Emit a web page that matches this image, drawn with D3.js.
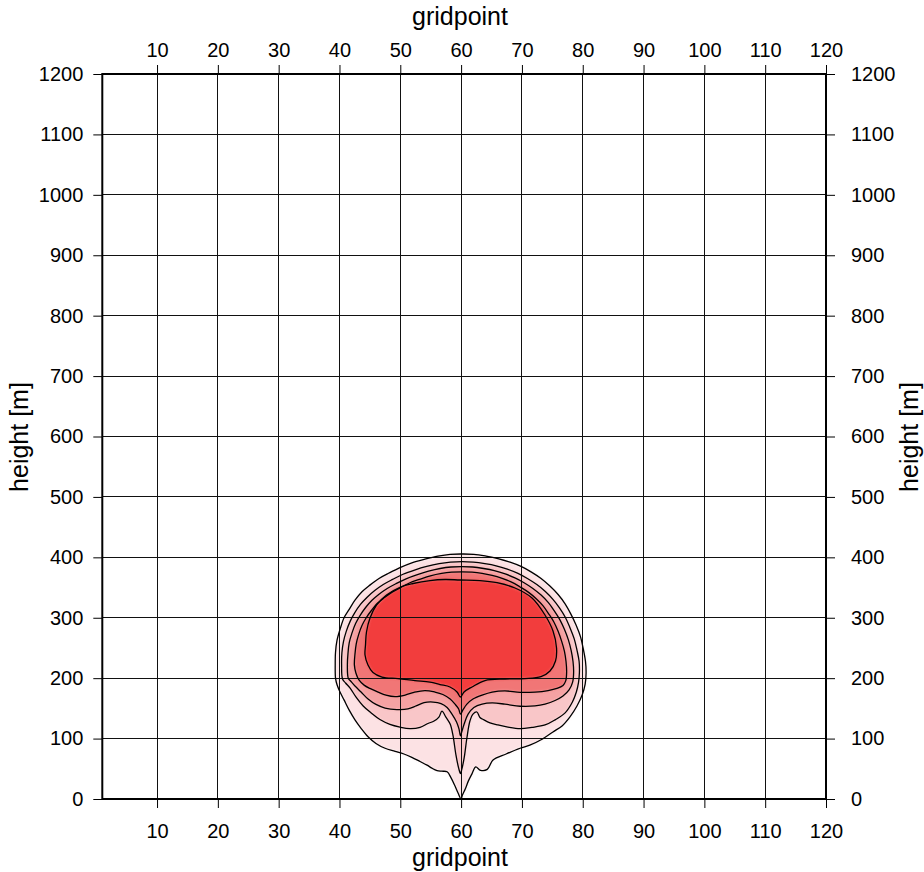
<!DOCTYPE html>
<html>
<head>
<meta charset="utf-8">
<script src="https://cdn.jsdelivr.net/npm/d3@7"></script>
<style>
  body { margin: 0; background: #fff; }
  svg { display: block; }
  text { font-family: "Liberation Sans", Arial, Helvetica, sans-serif; fill: #000; }
</style>
</head>
<body>
<svg id="chart" width="924" height="872"></svg>
<script>
// Axis ticks
const xTicks = [10, 20, 30, 40, 50, 60, 70, 80, 90, 100, 110, 120];
const yTicks = [0, 100, 200, 300, 400, 500, 600, 700, 800, 900, 1000, 1100, 1200];

// Fill colour of each contour level, outermost first
const levelColors = ["#fce2e4", "#f9c6c8", "#f5a2a3", "#f17676", "#f23e3e"];

// Contour outlines as [gridpoint, height in m], outermost level first
const level1 = [
  [39.35,200],[39.3,222],[39.35,243],[39.6,263],[40.1,281],[40.75,300],[41.6,314],[42.55,329],[43.7,343],[45,354],
  [46.5,365],[48.15,374],[49.95,383],[51.9,391],[54.05,397],[56.2,402],[58.2,405],[60.15,405.5],[62.1,405],[64.1,402],
  [66.05,398],[68.05,392],[69.85,385],[71.5,376],[73.15,365],[74.6,352.5],[75.95,338.5],[77.1,323],[78.05,306],[78.9,288],
  [79.65,268],[80.1,248],[80.45,228],[80.55,208.5],[80.4,190],[79.9,172],[79.05,154],[77.9,136],[76.6,121],[75.1,111],
  [73.15,98],[71.3,89],[69.7,84],[67.4,74.5],[65.25,64.5],[64.3,49],[63.2,47.5],[62.4,53],[61.8,42],[61.2,30],
  [60.7,17],[60.2,6],[60,0],[59.5,10],[59,21.5],[58.35,35],[57.7,45],[56.85,46],[56.05,47],[55.2,51],
  [54.4,56],[53.25,62],[51.9,69],[50.6,74.5],[49.15,79],[47.5,84],[46,92],[44.7,103],[43.55,117],[42.55,131],
  [41.6,147],[40.75,164],[40.05,178],[39.6,189]
];
const level2 = [
  [40.5,198.6],[40.35,222],[40.4,242],[40.65,260],[41.1,277],[41.75,294],[42.5,308],[43.45,322],[44.55,334],[45.8,345],
  [47.2,355],[48.75,363.5],[50.45,372],[52.35,379],[54.35,385],[56.4,389.5],[58.25,392],[60.15,393],[62,392],[63.9,389.5],
  [65.75,386],[67.6,380.5],[69.35,373.5],[70.9,365],[72.45,355],[73.85,343.5],[75.1,330.5],[76.2,316],[77.15,300.5],[77.9,283.5],
  [78.6,265],[79.05,246.5],[79.4,228],[79.45,209.5],[79.3,192.5],[78.95,177],[78.3,160.5],[77.1,142.5],[75.45,131],[73.8,122.5],
  [71.65,118.5],[69.7,116.5],[67.7,119],[66.05,122.5],[64.75,126],[63.75,131],[63.1,135],[62.6,144],[61.95,140.5],[61.45,129],
  [60.95,101],[60.5,68],[60.05,46.5],[59.9,42],[59.6,51],[59.15,73],[58.65,106],[58.2,124],[57.5,135.5],[56.85,145.5],
  [56.35,135.5],[55.55,129],[54.55,125],[53.25,118.5],[51.6,116.5],[49.95,119],[48.3,123.5],[46.65,131.5],[45.2,142.5],[43.9,154],
  [42.7,169],[41.75,183.5],[41,192]
];
const level3 = [
  [41.45,200],[41.3,222],[41.4,241],[41.6,258.5],[42.05,274.5],[42.65,290.5],[43.4,304],[44.3,317],[45.3,328.5],[46.5,339],
  [47.85,348.5],[49.3,356.5],[50.95,364.5],[52.7,371],[54.65,377],[56.55,381.5],[58.35,384],[60.1,384.5],[61.9,384],[63.7,381.5],
  [65.45,378],[67.25,372.5],[68.85,366],[70.35,358],[71.8,348.5],[73.15,337.5],[74.35,325],[75.35,311],[76.25,296.5],[77,280.5],
  [77.65,263],[78.1,245.5],[78.4,227.5],[78.5,210],[78.35,194],[77.75,180.5],[76.75,170.5],[75.45,163],[73.8,157],[72.15,154],
  [69.7,153.5],[67.2,157],[65.1,159],[63.45,157],[62.1,151.5],[61.15,140.5],[60.5,124],[60.05,109],[59.9,104.5],[59.65,116],
  [59.25,127.5],[58.5,140.5],[57.7,151.5],[56.7,158],[55.4,160.5],[53.9,159.5],[52.6,154],[51.25,149],[49.45,148],[47.5,150.5],
  [46,156.5],[44.7,165.5],[43.55,177],[42.55,187],[41.9,194.5]
];
const level4 = [
  [42.45,222],[42.55,240],[42.75,256.5],[43.15,272],[43.7,287],[44.4,300],[45.25,312],[46.2,323.5],[47.35,333],[48.6,342],
  [49.95,349.5],[51.5,357.5],[53.15,363.5],[54.95,369.5],[56.8,373.5],[58.45,375.5],[60.1,376],[61.8,375.5],[63.45,373.5],[65.1,370],
  [66.75,365],[68.3,359],[69.7,351],[71.1,342],[72.35,331.5],[73.45,320],[74.4,306.5],[75.25,293],[75.95,277.5],[76.55,260.5],
  [77,244],[77.25,227.5],[77.35,210.5],[77.2,195.5],[76.75,188],[75.75,183],[74.3,179.5],[72.15,177],[69.7,176.5],[67.2,179],
  [65.1,177],[63.45,172],[61.95,165.5],[60.95,157],[60.3,147.5],[59.9,140.5],[59.6,149],[59,157],[58.2,165.5],[57,173],
  [55.7,177],[54.05,179.5],[52.25,176.5],[50.8,172],[49.15,169.5],[47.65,172],[46.35,177],[45,183],[44.05,188.5],[43.2,197],
  [42.7,208.5]
];
const level5 = [
  [59.82,362.5],[63.11,361.6],[65.9,358],[68.86,349.2],[71.66,332.7],[73.79,304.5],[75.11,278],[75.69,249.9],[75.52,228.4],[74.62,211.9],
  [73.14,202.7],[70.51,199.4],[67.22,198.6],[63.93,196.1],[61.79,185.4],[60.48,177.1],[59.9,168.8],[59.33,177.1],[58.17,185.4],[56.53,189.5],
  [54.89,193.6],[52.42,196.1],[49.62,199.4],[46.99,201.9],[45.51,209.4],[44.69,221.8],[44.2,238.3],[44.28,254.9],[44.44,276.4],[45.02,299.6],
  [46.09,321.1],[47.74,337.6],[50.04,350.9],[52.09,356.7],[54.89,361.6],[57.35,363.3]
];
const outlines = [level1, level2, level3, level4, level5];

const svg = d3.select("#chart");
const x = d3.scaleLinear().domain([1, 120]).range([102.3, 826]);
const y = d3.scaleLinear().domain([0, 1200]).range([799, 74]);
const [x0, x1] = x.range();
const [y0, y1] = y.range();

// soft edge on the shaded field
const defs = svg.append("defs");
defs.append("filter").attr("id", "soft")
  .attr("x", "-10%").attr("y", "-10%").attr("width", "120%").attr("height", "120%")
  .append("feGaussianBlur").attr("stdDeviation", 1.6);
defs.append("clipPath").attr("id", "plotClip")
  .append("rect").attr("x", x0).attr("y", y1).attr("width", x1 - x0).attr("height", y0 - y1);

const outline = d3.line()
  .x(d => x(d[0])).y(d => y(d[1]))
  .curve(d3.curveCatmullRomClosed.alpha(0.5));

// shaded levels, painted outermost to innermost
svg.append("g").attr("clip-path", "url(#plotClip)")
  .append("g").attr("filter", "url(#soft)")
  .selectAll("path").data(outlines).join("path")
  .attr("d", outline)
  .attr("fill", (d, i) => levelColors[i])
  .attr("stroke", "none");

// grid
const grid = svg.append("g").attr("stroke", "#111").attr("stroke-width", 1).attr("shape-rendering", "crispEdges");
grid.selectAll("line.gx").data(xTicks.filter(t => t < 120)).join("line")
  .attr("x1", d => x(d)).attr("x2", d => x(d)).attr("y1", y1).attr("y2", y0);
grid.selectAll("line.gy").data(yTicks.filter(t => t > 0 && t < 1200)).join("line")
  .attr("x1", x0).attr("x2", x1).attr("y1", d => y(d)).attr("y2", d => y(d));

// contour lines
svg.append("g")
  .selectAll("path").data(outlines).join("path")
  .attr("d", outline)
  .attr("fill", "none")
  .attr("stroke", "#000")
  .attr("stroke-width", 1.3)
  .attr("stroke-linejoin", "round");

// axes
const fontSize = 20;
const fmt = d3.format("d");
function styleAxis(g) {
  g.select(".domain").remove();
  g.selectAll(".tick line").attr("stroke", "#000").attr("stroke-width", 1);
  g.selectAll(".tick text").attr("font-size", fontSize).attr("font-family", "Liberation Sans, Arial, sans-serif").attr("fill", "#000");
}
svg.append("g").attr("transform", `translate(0,${y1})`)
  .call(d3.axisTop(x).tickValues(xTicks).tickFormat(fmt).tickSize(9).tickPadding(8)).call(styleAxis);
svg.append("g").attr("transform", `translate(0,${y0})`)
  .call(d3.axisBottom(x).tickValues(xTicks).tickFormat(fmt).tickSize(9).tickPadding(16)).call(styleAxis);
svg.append("g").attr("transform", `translate(${x0},0)`)
  .call(d3.axisLeft(y).tickValues(yTicks).tickFormat(fmt).tickSize(9).tickPadding(10)).call(styleAxis);
svg.append("g").attr("transform", `translate(${x1},0)`)
  .call(d3.axisRight(y).tickValues(yTicks).tickFormat(fmt).tickSize(9).tickPadding(16)).call(styleAxis);

// frame
svg.append("rect")
  .attr("x", x0).attr("y", y1).attr("width", x1 - x0).attr("height", y0 - y1)
  .attr("fill", "none").attr("stroke", "#000").attr("stroke-width", 2);

// titles
const titleSize = 25;
svg.append("text").attr("x", 460).attr("y", 25).attr("text-anchor", "middle")
  .attr("font-size", titleSize).text("gridpoint");
svg.append("text").attr("x", 460).attr("y", 866).attr("text-anchor", "middle")
  .attr("font-size", titleSize).text("gridpoint");
svg.append("text").attr("transform", "translate(28,437) rotate(-90)").attr("text-anchor", "middle")
  .attr("font-size", titleSize).text("height [m]");
svg.append("text").attr("transform", "translate(918,437) rotate(-90)").attr("text-anchor", "middle")
  .attr("font-size", titleSize).text("height [m]");
</script>
</body>
</html>
